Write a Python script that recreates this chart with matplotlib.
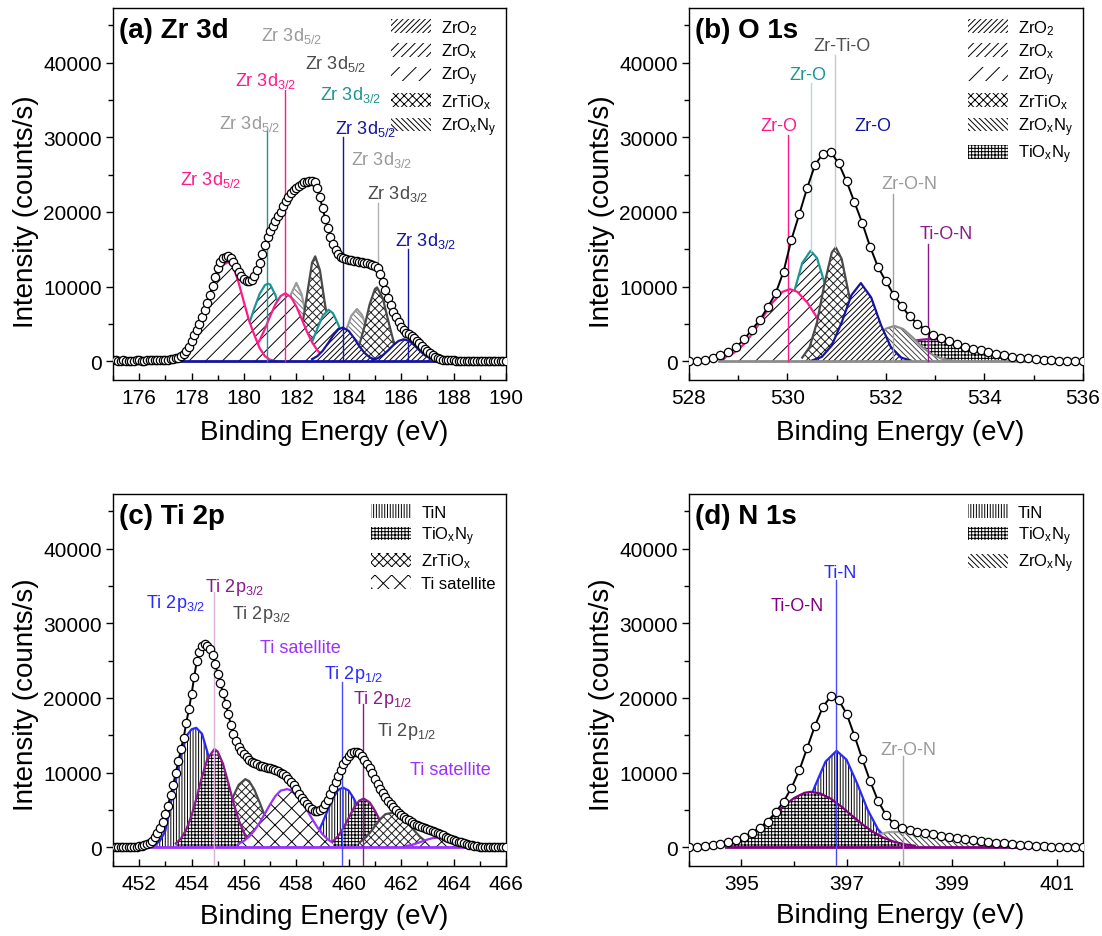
import matplotlib.pyplot as plt
from matplotlib.patches import Patch
from matplotlib.ticker import MultipleLocator
import numpy as np

plt.rcParams['font.family'] = ['Liberation Sans', 'DejaVu Sans']
plt.rcParams['mathtext.fontset'] = 'custom'
plt.rcParams['mathtext.rm'] = 'Liberation Sans'
plt.rcParams['mathtext.default'] = 'regular'
plt.rcParams['hatch.linewidth'] = 0.7

# ---------------- (a) Zr 3d ----------------
a_energy = np.linspace(175.0, 190.0, 151)
a_counts = [120, 110, 100, 100, 110, 100, 90, 100, 100, 110,
            110, 100, 100, 110, 120, 120, 130, 140, 150, 160,
            180, 210, 250, 310, 380, 500, 650, 940, 1350, 1900,
            2700, 3550, 4250, 4950, 5950, 6900, 7850, 8900, 10050, 11300,
            12450, 13300, 13800, 14000, 14050, 13800, 13300, 12600, 11900, 11400,
            11000, 10750, 10700, 10950, 11400, 12200, 13200, 14300, 15600, 16700,
            17500, 18150, 18750, 19400, 20050, 20750, 21450, 22050, 22500, 22900,
            23250, 23500, 23750, 23950, 24070, 24150, 24200, 24000, 23150, 21950,
            20500, 19100, 17850, 16700, 15700, 14950, 14400, 14000, 13800, 13650,
            13550, 13500, 13470, 13420, 13350, 13280, 13220, 13150, 13030, 12930,
            12750, 12450, 11750, 10650, 9550, 8500, 7500, 6650, 5900, 5250,
            4650, 4200, 3830, 3600, 3380, 3100, 2750, 2400, 2050, 1700,
            1350, 1050, 800, 580, 420, 300, 230, 180, 150, 130,
            110, 100, 100, 90, 90, 100, 100, 90, 80, 90,
            90, 80, 80, 90, 80, 70, 70, 80, 80, 70,
            70]

a_grey1 = ([181.0, 181.2, 181.4, 181.6, 181.8, 182.0, 182.2, 182.4, 182.6, 182.8, 183.0],
           [300, 1000, 2800, 5700, 9000, 10500, 9000, 5700, 2800, 1000, 300])
a_ztio1 = ([181.8, 182.0, 182.2, 182.4, 182.6, 182.72, 182.9, 183.1, 183.3, 183.5, 183.7],
           [370, 1500, 4250, 8700, 13200, 14050, 12200, 7500, 3300, 1000, 230])
a_teal1 = ([179.6, 179.8, 180.0, 180.2, 180.4, 180.6, 180.8, 180.92, 181.0, 181.2, 181.4, 181.6, 181.8, 182.0, 182.2],
           [900, 1820, 3210, 5060, 7150, 9030, 10200, 10400, 10270, 8890, 6560, 4130, 2200, 1000, 390])
a_teal2 = ([182.2, 182.4, 182.6, 182.8, 183.0, 183.23, 183.4, 183.6, 183.8, 184.0, 184.2, 184.4],
           [500, 1260, 2590, 4370, 6050, 6900, 6430, 4920, 3090, 1600, 680, 235])
a_pink2 = ([179.8, 180.0, 180.2, 180.4, 180.6, 180.8, 181.0, 181.2, 181.4, 181.58, 181.8, 182.0,
            182.2, 182.4, 182.6, 182.8, 183.0, 183.2, 183.4],
           [190, 430, 890, 1660, 2820, 4330, 6040, 7630, 8740, 9100, 8580, 7340,
            5690, 4010, 2550, 1480, 780, 370, 160])
a_pink1 = ([177.6, 177.8, 178.0, 178.2, 178.4, 178.6, 178.8, 179.0, 179.2, 179.4, 179.6, 179.8,
            180.0, 180.2, 180.4, 180.6, 180.8, 181.0, 181.2],
           [300, 1100, 2400, 3900, 5600, 7500, 9600, 11600, 12900, 13300, 12600, 10500,
            7900, 5400, 3500, 1750, 700, 200, 30])
a_grey2 = ([183.3, 183.5, 183.7, 183.9, 184.1, 184.31, 184.5, 184.7, 184.9, 185.1, 185.3],
           [290, 900, 2190, 4140, 6100, 7000, 6250, 4350, 2360, 1000, 330])
a_ztio2 = ([184.0, 184.2, 184.4, 184.6, 184.8, 185.0, 185.08, 185.3, 185.5, 185.7, 185.9, 186.1],
           [210, 770, 2160, 4640, 7640, 9680, 9890, 8440, 5540, 2800, 1090, 325])
a_blue1 = ([182.6, 182.8, 183.0, 183.2, 183.4, 183.6, 183.77, 184.0, 184.2, 184.4, 184.6, 184.8, 185.0],
           [290, 690, 1380, 2360, 3440, 4270, 4520, 4070, 3120, 2040, 1140, 540, 220])
a_blue2 = ([184.9, 185.1, 185.3, 185.5, 185.7, 185.9, 186.1, 186.3, 186.5, 186.7, 186.9, 187.1, 187.3],
           [160, 400, 820, 1450, 2160, 2730, 2950, 2730, 2160, 1450, 820, 400, 160])
a_baseline = [177.5, 187.3]
a_marks = [180.88, 181.58, 183.77, 185.10, 186.28]
a_mark_lo = [0, 0, 0, 12500, 0]
a_mark_hi = [30900, 36300, 30000, 21200, 15000]
a_labels = ['Zr 3d$_{5/2}$', 'Zr 3d$_{5/2}$', 'Zr 3d$_{3/2}$', 'Zr 3d$_{3/2}$', 'Zr 3d$_{5/2}$',
            'Zr 3d$_{5/2}$', 'Zr 3d$_{3/2}$', 'Zr 3d$_{5/2}$', 'Zr 3d$_{3/2}$', 'Zr 3d$_{3/2}$']

# ---------------- (b) O 1s ----------------
b_energy = np.linspace(528.0, 536.0, 51)
b_counts = [30, 100, 200, 400, 800, 1200, 1900, 2950, 4250, 5550,
            7250, 9100, 12000, 16300, 19700, 23200, 26300, 27800, 28000, 26500,
            24100, 21300, 18500, 15300, 12600, 10700, 8900, 7350, 6050, 5000,
            4250, 3500, 3100, 2700, 2350, 1980, 1700, 1450, 1200, 980,
            780, 630, 500, 380, 270, 180, 130, 100, 80, 60, 50]
b_pink = ([528.5, 528.7, 528.9, 529.1, 529.3, 529.5, 529.7, 529.9, 530.05, 530.2, 530.4, 530.6,
           530.8, 531.0, 531.2, 531.4, 531.6],
          [180, 475, 1080, 2180, 3810, 5860, 7890, 9310, 9660, 9310, 7890, 5860,
           3810, 2180, 1080, 475, 180])
b_teal = ([529.5, 529.7, 529.9, 530.1, 530.3, 530.47, 530.6, 530.8, 531.0, 531.2, 531.4],
          [320, 1320, 3930, 8460, 13160, 14810, 13820, 9500, 4700, 1680, 435])
b_ztio = ([530.3, 530.45, 530.6, 530.75, 530.9, 530.98, 531.1, 531.25, 531.4, 531.55, 531.7],
          [500, 1900, 5230, 10310, 14560, 15260, 13720, 8890, 4130, 1370, 330])
b_tioxny = ([532.2, 532.4, 532.6, 532.8, 533.0, 533.2, 533.4, 533.6, 533.8, 534.0, 534.2, 534.4,
             534.6, 534.8, 535.0, 535.2, 535.4, 535.6],
            [0, 1500, 2800, 2950, 2950, 2900, 2400, 1980, 1650, 1330, 1030, 780,
             600, 440, 300, 170, 80, 0])
b_grey = ([531.0, 531.2, 531.4, 531.6, 531.8, 532.0, 532.17, 532.35, 532.55, 532.75, 532.95, 533.15, 533.35],
          [100, 330, 880, 1890, 3220, 4370, 4740, 4320, 3150, 1830, 850, 310, 90])
b_blue = ([530.5, 530.7, 530.9, 531.1, 531.3, 531.49, 531.7, 531.9, 532.1, 532.3, 532.5],
          [115, 600, 2120, 5210, 8870, 10470, 8550, 4840, 1900, 515, 100])
b_baseline = [528.6, 534.8]
b_marks = [530.02, 530.48, 530.97, 532.14, 532.86]
b_mark_lo = [0, 14800, 15300, 0, 0]
b_mark_hi = [30250, 37200, 41000, 22400, 15700]
b_labels = ['Zr-Ti-O', 'Zr-O', 'Zr-O', 'Zr-O', 'Zr-O-N', 'Ti-O-N']

# ---------------- (c) Ti 2p ----------------
c_energy = np.linspace(451.0, 466.0, 151)
c_counts = [80, 70, 60, 70, 80, 70, 70, 80, 90, 100,
            120, 170, 250, 400, 600, 900, 1350, 1900, 2600, 3350,
            4400, 5600, 7000, 8400, 10000, 11600, 13200, 14700, 16700, 18500,
            20500, 22800, 24900, 26200, 27000, 27250, 27000, 26500, 25800, 24500,
            23150, 21950, 20700, 19250, 17800, 16400, 15200, 14200, 13400, 12900,
            12450, 12100, 11750, 11450, 11250, 11100, 10950, 10850, 10750, 10680,
            10600, 10500, 10350, 10200, 10000, 9780, 9500, 9180, 8800, 8350,
            7800, 7200, 6650, 6150, 5750, 5400, 5100, 4900, 4850, 4980,
            5300, 5770, 6400, 7110, 7950, 8750, 9600, 10400, 11100, 11700,
            12250, 12600, 12750, 12780, 12600, 12200, 11750, 11200, 10600, 9900,
            9200, 8500, 7800, 7250, 6750, 6250, 5800, 5350, 5000, 4650,
            4350, 4050, 3800, 3600, 3400, 3180, 3000, 2850, 2700, 2580,
            2450, 2300, 2150, 2000, 1870, 1740, 1600, 1450, 1310, 1170,
            1030, 900, 760, 650, 540, 440, 340, 250, 180, 140,
            110, 90, 80, 75, 70, 70, 70, 65, 60, 60,
            60]
c_tin1 = ([452.6, 452.8, 453.0, 453.2, 453.4, 453.6, 453.8, 454.0, 454.18, 454.4, 454.6, 454.8,
           455.0, 455.2, 455.4, 455.6, 455.8, 456.0],
          [300, 900, 2200, 5800, 9000, 12400, 14900, 15800, 16000, 15200, 12800, 9800,
           6800, 4300, 2400, 1200, 550, 200])
c_ztio1 = ([454.8, 455.0, 455.2, 455.4, 455.6, 455.8, 456.05, 456.2, 456.4, 456.6, 456.8, 457.0,
            457.2, 457.4, 457.6],
           [1040, 1970, 3350, 5080, 6890, 8370, 9130, 8850, 7700, 6000, 4180, 2610,
            1450, 730, 325])
c_tioxny1 = ([453.4, 453.6, 453.8, 454.0, 454.2, 454.4, 454.6, 454.87, 455.0, 455.2, 455.4, 455.6,
              455.8, 456.0, 456.2, 456.4],
             [530, 1190, 2400, 4270, 6750, 9470, 11800, 13150, 12820, 11190, 8670, 5970,
              3640, 1970, 950, 405])
c_tin2 = ([458.6, 458.8, 459.0, 459.2, 459.4, 459.6, 459.78, 460.0, 460.2, 460.4, 460.6, 460.8,
           461.0, 461.2, 461.4],
          [800, 1800, 3300, 5000, 6600, 7700, 8000, 7600, 6500, 5000, 3400, 2100,
           1150, 550, 230])
c_sat1 = ([455.8, 456.0, 456.2, 456.4, 456.6, 456.8, 457.0, 457.2, 457.4, 457.64, 457.8, 458.0,
           458.2, 458.4, 458.6, 458.8, 459.0, 459.2, 459.4, 459.6],
          [480, 860, 1440, 2260, 3310, 4520, 5760, 6870, 7590, 7790, 7650, 7120,
           6180, 5030, 3820, 2690, 1750, 1060, 590, 300])
c_tioxny2 = ([459.4, 459.6, 459.8, 460.0, 460.2, 460.4, 460.57, 460.8, 461.0, 461.2, 461.4, 461.6,
              461.8, 462.0],
             [800, 1540, 2620, 3960, 5290, 6250, 6530, 6020, 4910, 3550, 2260, 1280,
              635, 280])
c_ztio2 = ([460.4, 460.6, 460.8, 461.0, 461.2, 461.4, 461.71, 461.9, 462.1, 462.3, 462.5, 462.7,
            462.9, 463.1, 463.3],
           [620, 1140, 1910, 2830, 3760, 4440, 4650, 4450, 3900, 3100, 2250, 1480,
            880, 480, 240])
c_sat2 = ([462.2, 462.4, 462.6, 462.8, 463.0, 463.2, 463.4, 463.6, 463.8, 464.0, 464.2, 464.4, 464.6],
          [180, 325, 540, 790, 1040, 1230, 1300, 1230, 1040, 790, 540, 325, 180])
c_baseline = [452.4, 464.9]
c_marks = [454.86, 459.76, 460.54]
c_mark_hi = [34190, 22100, 19190]
c_labels = ['Ti 2p$_{3/2}$', 'Ti 2p$_{3/2}$', 'Ti 2p$_{3/2}$', 'Ti satellite',
            'Ti 2p$_{1/2}$', 'Ti 2p$_{1/2}$', 'Ti 2p$_{1/2}$', 'Ti satellite']

# ---------------- (d) N 1s ----------------
d_energy = np.linspace(394.0, 401.5, 51)
d_counts = [60, 70, 120, 270, 500, 740, 1040, 1420, 1970, 2600,
            3450, 4700, 6100, 7950, 10300, 13300, 16300, 18800, 20200, 19700,
            17900, 14950, 11800, 8850, 6200, 4350, 3150, 2600, 2270, 2070,
            1890, 1720, 1570, 1410, 1230, 1090, 950, 830, 730, 630,
            520, 410, 330, 260, 190, 140, 110, 90, 80, 70, 60]
d_tin = ([395.8, 396.0, 396.2, 396.4, 396.6, 396.81, 397.0, 397.2, 397.4, 397.6, 397.8, 398.0],
         [820, 2200, 4730, 8210, 11480, 12930, 11730, 8570, 5050, 2390, 915, 280])
d_zroxny = ([397.4, 397.6, 397.8, 398.0, 398.2, 398.4, 398.6, 398.8, 399.0, 399.2, 399.4, 399.6,
             399.8, 400.0, 400.2, 400.4, 400.6, 400.8, 401.0],
            [0, 1700, 2050, 2050, 1950, 1800, 1650, 1480, 1300, 1120, 950, 780,
             620, 480, 350, 240, 150, 80, 0])
d_tioxny = ([394.6, 394.8, 395.0, 395.2, 395.4, 395.6, 395.8, 396.0, 396.2, 396.32, 396.5, 396.7,
             396.9, 397.1, 397.3, 397.5, 397.7, 397.9, 398.1, 398.3],
            [400, 780, 1250, 1900, 2900, 4200, 5500, 6600, 7300, 7430, 7210, 6510,
             5470, 4260, 3090, 2080, 1310, 760, 410, 210])
d_baseline = [394.7, 401.0]
d_marks = [396.80, 398.07]
d_mark_hi = [35750, 12170]
d_labels = ['Ti-N', 'Ti-O-N', 'Zr-O-N']

# ---------------- styles ----------------
PINK, TEAL, ZBLUE = '#ff1a8c', '#1a9696', '#1414a0'
LGREY, DGREY = '#9a9a9a', '#4a4a4a'
PURPLE, VIOLET, TBLUE = '#8b1a8b', '#9b30ff', '#2828ff'

HATCH = {'ZrO2': '//////', 'ZrOx': '////', 'ZrOy': '//', 'ZrTiOx': 'xxxx',
         'ZrOxNy': '\\' * 6, 'TiOxNy': '+++++', 'TiN': '||||||', 'Tisat': 'xx'}
NAMES = {'ZrO2': 'ZrO$_2$', 'ZrOx': 'ZrO$_x$', 'ZrOy': 'ZrO$_y$', 'ZrTiOx': 'ZrTiO$_x$',
         'ZrOxNy': 'ZrO$_x$N$_y$', 'TiOxNy': 'TiO$_x$N$_y$', 'TiN': 'TiN', 'Tisat': 'Ti satellite'}

fig = plt.figure(figsize=(11.02, 9.37), dpi=100)
ax_a = fig.add_axes([0.1025, 0.5934, 0.3566, 0.397])
ax_b = fig.add_axes([0.6252, 0.5934, 0.3575, 0.397])
ax_c = fig.add_axes([0.1025, 0.0747, 0.3566, 0.397])
ax_d = fig.add_axes([0.6252, 0.0747, 0.3575, 0.397])


def draw_peaks(ax, peaks):
    # peaks drawn in order, later ones cover earlier ones
    for i, (xy, kind, line, hcol) in enumerate(peaks):
        z = 1 + i * 0.1
        ax.fill_between(xy[0], 0, xy[1], facecolor='white', edgecolor=hcol,
                        hatch=HATCH[kind], linewidth=0, zorder=z)
        ax.plot(xy[0], xy[1], color=line, lw=1.6, zorder=z + 0.05)


def finish(ax, energy, counts, xlim, major, tag, kinds, base, base_col, ylab_y, xlab_y):
    ax.plot(base, [0, 0], color=base_col, lw=2.0, zorder=4)
    ax.plot(energy, counts, '-', color='black', lw=1.4, zorder=5)
    ax.plot(energy, counts, 'o', ms=6.0, mfc='white', mec='black', mew=0.9, zorder=6)
    ax.set_xlim(*xlim)
    ax.set_ylim(-2500, 47300)
    ax.xaxis.set_major_locator(major)
    ax.xaxis.set_minor_locator(MultipleLocator(1))
    ax.yaxis.set_major_locator(MultipleLocator(10000))
    ax.yaxis.set_minor_locator(MultipleLocator(5000))
    ax.tick_params(axis='x', which='both', direction='in', top=False, labelsize=15, pad=6, width=1)
    ax.tick_params(axis='y', which='both', direction='out', right=False, labelsize=15, pad=3, width=1)
    ax.tick_params(which='major', length=5)
    ax.tick_params(which='minor', length=3.5)
    for s in ax.spines.values():
        s.set_linewidth(1.0)
    ax.set_xlabel('Binding Energy (eV)', fontsize=20, va='center')
    ax.set_ylabel('Intensity (counts/s)', fontsize=20, va='center')
    ax.xaxis.set_label_coords(0.537, xlab_y)
    ax.yaxis.set_label_coords(-0.222, ylab_y)
    ax.text(0.016, 0.94, tag, transform=ax.transAxes, fontsize=20, fontweight='bold',
            ha='left', va='center')
    handles = [Patch(facecolor='white', edgecolor='black', hatch=HATCH[k], lw=0, label=NAMES[k])
               for k in kinds]
    ax.legend(handles=handles, loc='upper right', frameon=False, fontsize=12,
              handlelength=2.4, handleheight=0.9, handletextpad=0.6, labelspacing=0.28,
              borderaxespad=0.3, borderpad=0.3)


def marks(ax, xs, lo, hi, colors):
    for x, y0, y1, c in zip(xs, lo, hi, colors):
        ax.plot([x, x], [y0, y1], color=c, lw=1.0, zorder=4.5)


def labels(ax, texts, pos, colors):
    for t, (x, y), c in zip(texts, pos, colors):
        ax.text(x, y, t, color=c, fontsize=13, ha='center', va='center', zorder=7)


# (a)
draw_peaks(ax_a, [(a_grey1, 'ZrOxNy', LGREY, '#707070'),
                  (a_ztio1, 'ZrTiOx', DGREY, '#202020'),
                  (a_teal1, 'ZrOx', TEAL, 'black'),
                  (a_teal2, 'ZrOx', TEAL, 'black'),
                  (a_pink2, 'ZrOy', PINK, 'black'),
                  (a_pink1, 'ZrOy', PINK, 'black'),
                  (a_grey2, 'ZrOxNy', LGREY, '#707070'),
                  (a_ztio2, 'ZrTiOx', DGREY, '#202020'),
                  (a_blue1, 'ZrO2', ZBLUE, 'black'),
                  (a_blue2, 'ZrO2', ZBLUE, 'black')])
marks(ax_a, a_marks, a_mark_lo, a_mark_hi, [TEAL, PINK, ZBLUE, '#b0b0b0', ZBLUE])
labels(ax_a, a_labels,
       [(181.82, 43660), (183.5, 39870), (180.83, 37620), (184.08, 35840), (180.2, 31950),
        (184.63, 31230), (185.27, 27020), (178.74, 24340), (185.86, 22550), (186.93, 16280)],
       [LGREY, DGREY, PINK, TEAL, LGREY, ZBLUE, LGREY, PINK, DGREY, ZBLUE])
finish(ax_a, a_energy, a_counts, (175, 190), MultipleLocator(2), '(a) Zr 3d',
       ['ZrO2', 'ZrOx', 'ZrOy', 'ZrTiOx', 'ZrOxNy'], a_baseline, ZBLUE, 0.456, -0.141)

# (b)
draw_peaks(ax_b, [(b_teal, 'ZrOx', TEAL, 'black'),
                  (b_pink, 'ZrOy', PINK, 'black'),
                  (b_ztio, 'ZrTiOx', DGREY, '#202020'),
                  (b_tioxny, 'TiOxNy', PURPLE, 'black'),
                  (b_grey, 'ZrOxNy', '#8c8c8c', '#404040'),
                  (b_blue, 'ZrO2', ZBLUE, 'black')])
marks(ax_b, b_marks, b_mark_lo, b_mark_hi, [PINK, '#b9d6d6', '#c8c8c8', '#a0a0a0', PURPLE])
labels(ax_b, b_labels,
       [(531.11, 42320), (530.42, 38390), (529.83, 31590), (531.73, 31590), (532.48, 23760), (533.22, 17050)],
       ['#505050', TEAL, PINK, ZBLUE, LGREY, PURPLE])
finish(ax_b, b_energy, b_counts, (528, 536), MultipleLocator(2), '(b) O 1s',
       ['ZrO2', 'ZrOx', 'ZrOy', 'ZrTiOx', 'ZrOxNy', 'TiOxNy'], b_baseline, '#8c8c8c', 0.456, -0.141)

# (c)
draw_peaks(ax_c, [(c_tin1, 'TiN', TBLUE, 'black'),
                  (c_ztio1, 'ZrTiOx', DGREY, '#202020'),
                  (c_tioxny1, 'TiOxNy', PURPLE, 'black'),
                  (c_tin2, 'TiN', TBLUE, 'black'),
                  (c_sat1, 'Tisat', VIOLET, 'black'),
                  (c_tioxny2, 'TiOxNy', PURPLE, 'black'),
                  (c_ztio2, 'ZrTiOx', DGREY, '#202020'),
                  (c_sat2, 'Tisat', VIOLET, 'black')])
marks(ax_c, c_marks, [-2500] * 3, c_mark_hi, ['#dab0da', '#4a4aff', PURPLE])
labels(ax_c, c_labels,
       [(455.65, 34860), (453.4, 32840), (456.68, 31280), (458.15, 26800),
        (460.17, 23220), (461.29, 19950), (462.22, 15610), (463.87, 10470)],
       [PURPLE, TBLUE, DGREY, VIOLET, TBLUE, PURPLE, DGREY, VIOLET])
finish(ax_c, c_energy, c_counts, (451, 466), MultipleLocator(2), '(c) Ti 2p',
       ['TiN', 'TiOxNy', 'ZrTiOx', 'Tisat'], c_baseline, VIOLET, 0.462, -0.134)

# (d)
draw_peaks(ax_d, [(d_tin, 'TiN', TBLUE, 'black'),
                  (d_zroxny, 'ZrOxNy', '#a0a0a0', '#404040'),
                  (d_tioxny, 'TiOxNy', '#800080', 'black')])
marks(ax_d, d_marks, [-2500, -2500], d_mark_hi, ['#4a4aff', '#a8a8a8'])
labels(ax_d, d_labels, [(396.88, 36780), (396.07, 32390), (398.17, 13060)],
       [TBLUE, '#800080', LGREY])
finish(ax_d, d_energy, d_counts, (394, 401.5), MultipleLocator(2, offset=1), '(d) N 1s',
       ['TiN', 'TiOxNy', 'ZrOxNy'], d_baseline, '#800080', 0.462, -0.132)

fig.savefig('out.png', dpi=100)
